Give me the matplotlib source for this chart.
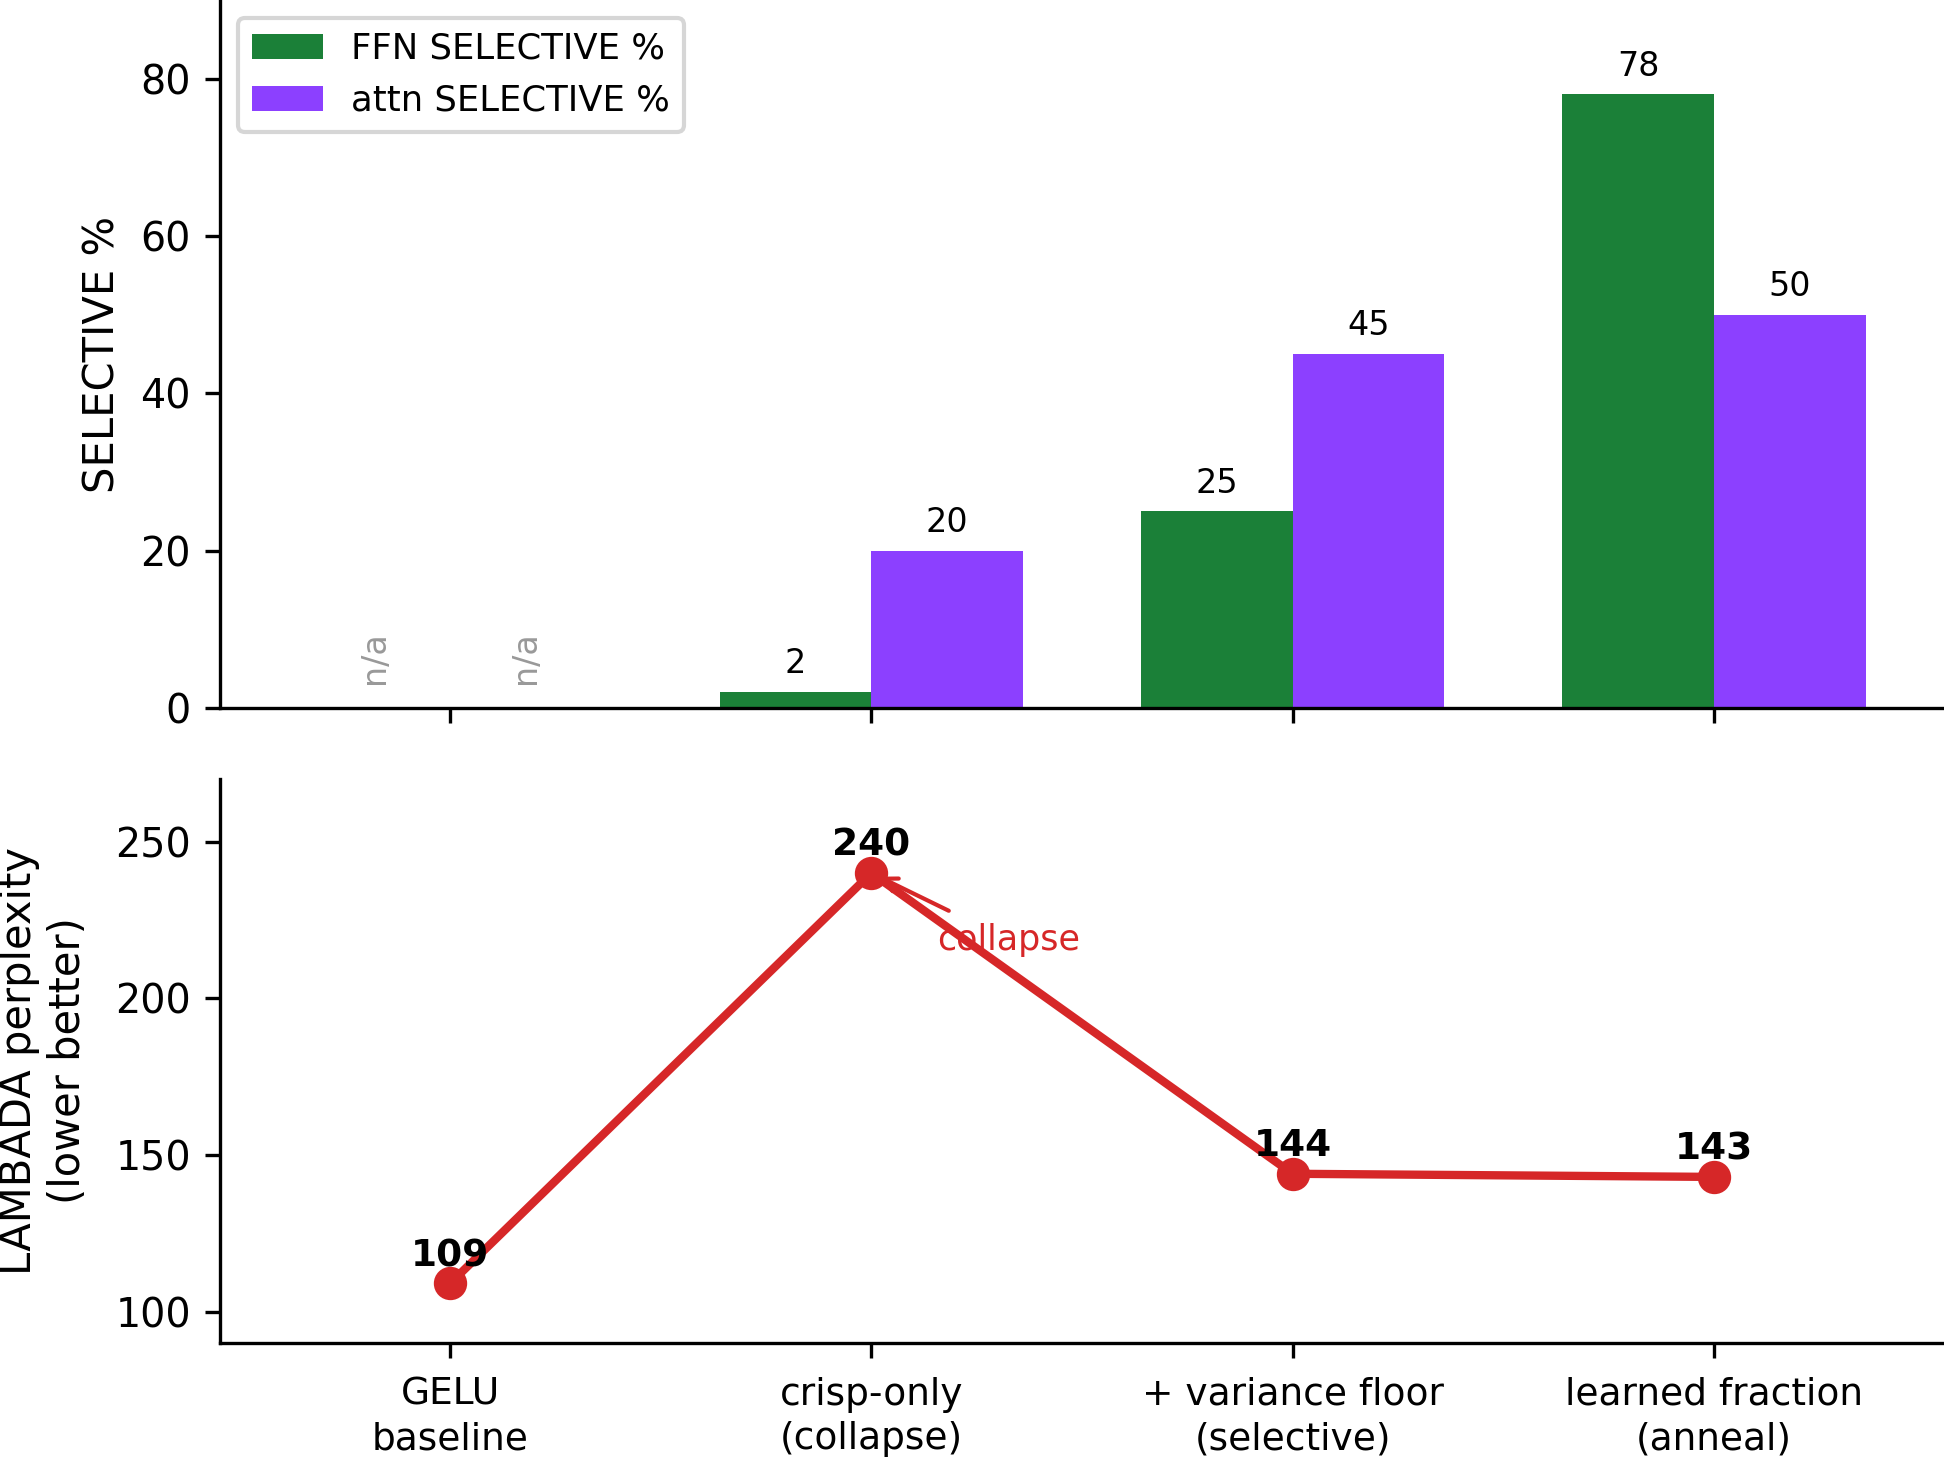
import numpy as np
import matplotlib
matplotlib.use('Agg')
import matplotlib.pyplot as plt

#data
categories = ['GELU\nbaseline', 'crisp-only\n(collapse)', '+ variance floor\n(selective)', 'learned fraction\n(anneal)']
ffn_sel = [np.nan, 2, 25, 78]
attn_sel = [np.nan, 20, 45, 50]
lambada_ppl = [109, 240, 144, 143]

green = '#1b8038'
purple = '#8c40ff'
red = '#d62728'

x = np.arange(len(categories))
w = 0.36

fig = plt.figure(figsize=(6.48, 4.86), dpi=300)
ax1 = fig.add_axes([0.1132, 0.5144, 0.8868, 0.4856])
ax2 = fig.add_axes([0.1132, 0.0789, 0.8868, 0.3868], sharex=ax1)

#top panel - selective bars
ax1.bar(x - w/2, ffn_sel, w, color=green, label='FFN SELECTIVE %')
ax1.bar(x + w/2, attn_sel, w, color=purple, label='attn SELECTIVE %')
for i in range(len(x)):
    for xx, v in [(x[i] - w/2, ffn_sel[i]), (x[i] + w/2, attn_sel[i])]:
        if np.isnan(v):
            ax1.text(xx, 3, 'n/a', rotation=90, ha='center', va='bottom', fontsize=8, color='#999999')
        else:
            ax1.text(xx, v + 1.5, '%d' % v, ha='center', va='bottom', fontsize=8)

ax1.set_ylim(0, 90)
ax1.set_xlim(-0.546, 3.546)
ax1.set_yticks(range(0, 81, 20))
ax1.set_ylabel('SELECTIVE %', fontsize=10)
ax1.yaxis.set_label_coords(-0.056, 0.5)
ax1.tick_params(axis='y', labelsize=9.5)
ax1.tick_params(axis='x', labelbottom=False)
ax1.legend(loc='upper left', fontsize=8.5)
ax1.spines['top'].set_visible(False)
ax1.spines['right'].set_visible(False)

#bottom panel - perplexity
ax2.plot(x, lambada_ppl, '-o', color=red, lw=2, markersize=7)
for xx, v in zip(x, lambada_ppl):
    ax2.text(xx, v + 3, '%d' % v, ha='center', va='bottom', fontsize=9, fontweight='bold')
ax2.annotate('collapse', xy=(1, 240), xytext=(1.155, 215.5), color=red, fontsize=8.4,
             arrowprops=dict(arrowstyle='->', color=red, lw=1))

ax2.set_ylim(90, 270)
ax2.set_ylabel('LAMBADA perplexity\n(lower better)', fontsize=10)
ax2.yaxis.set_label_coords(-0.076, 0.5)
ax2.set_xticks(x)
ax2.set_xticklabels(categories)
ax2.tick_params(axis='x', labelsize=9, pad=4.6)
ax2.tick_params(axis='y', labelsize=9.5)
for lbl in ax2.get_xticklabels():
    lbl.set_linespacing(1.3)
ax2.spines['top'].set_visible(False)
ax2.spines['right'].set_visible(False)

fig.savefig('out.png', dpi=300)
